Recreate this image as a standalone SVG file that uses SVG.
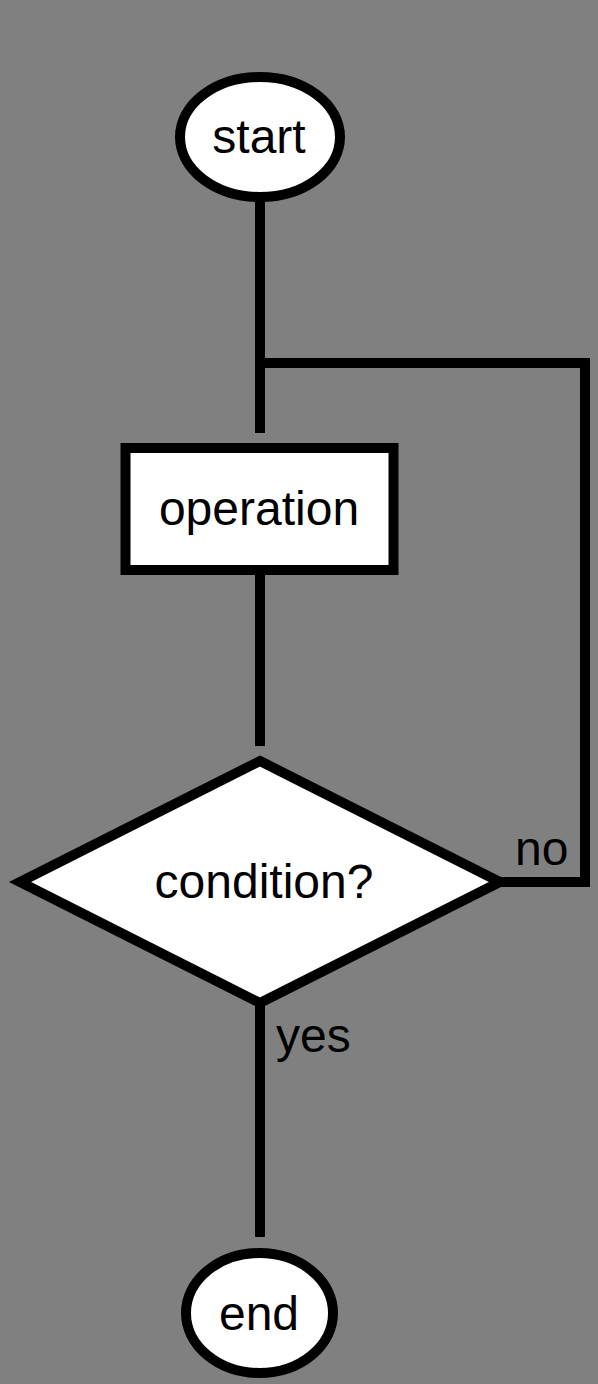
<svg xmlns="http://www.w3.org/2000/svg" width="598" height="1384" viewBox="0 0 598 1384">
<style>
.shape{fill:#ffffff;stroke:#000000;stroke-width:10;stroke-linejoin:miter}
.conn{fill:none;stroke:#000000;stroke-width:10;stroke-linejoin:miter;stroke-linecap:butt}
.lbl{font-family:"Liberation Sans",Arial,sans-serif;font-size:48px;fill:#000000}
.mid{text-anchor:middle}
</style>
<rect x="0" y="0" width="598" height="1384" fill="#808080"/>
<g id="connectors">
<path class="conn" d="M260 197 V433"/>
<path class="conn" d="M260 363 H585 V882 H500"/>
<path class="conn" d="M260 570 V746"/>
<path class="conn" d="M260 1003 V1237"/>
<text class="lbl" x="515" y="865">no</text>
<text class="lbl" x="276" y="1052">yes</text>
</g>
<g id="start">
<ellipse class="shape" cx="260" cy="137" rx="80" ry="60"/>
<text class="lbl mid" x="259" y="153">start</text>
</g>
<g id="operation">
<rect class="shape" x="125.5" y="448" width="268" height="122"/>
<text class="lbl mid" x="259" y="525">operation</text>
</g>
<g id="condition">
<polygon class="shape" points="260,761 500,882 260,1003 20,882"/>
<text class="lbl mid" x="264" y="898">condition?</text>
</g>
<g id="end">
<ellipse class="shape" cx="259.5" cy="1313" rx="73.5" ry="60"/>
<text class="lbl mid" x="259" y="1330">end</text>
</g>
</svg>
